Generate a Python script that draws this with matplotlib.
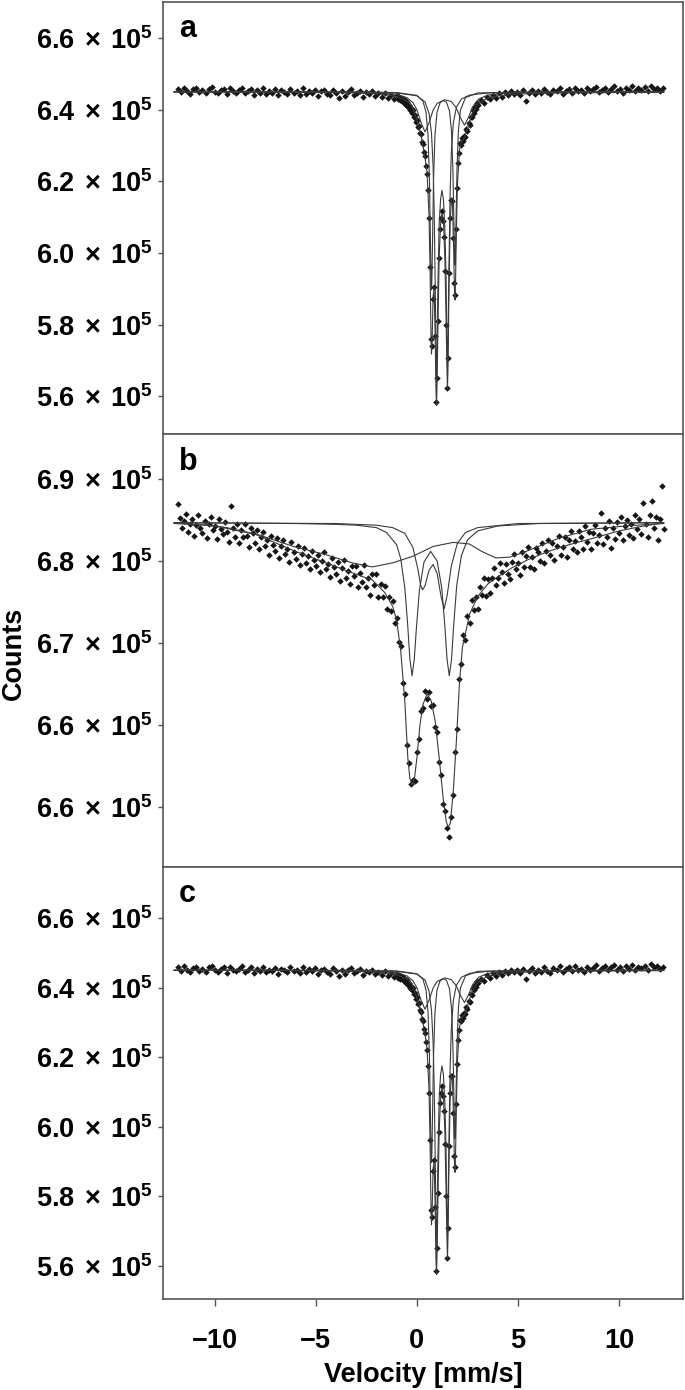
import numpy as np
import matplotlib
matplotlib.use("Agg")
import matplotlib.pyplot as plt
from matplotlib.ticker import FixedLocator, FixedFormatter

plt.rcParams['font.family'] = ['Liberation Sans', 'DejaVu Sans']
plt.rcParams['font.weight'] = 'bold'
plt.rcParams['mathtext.fontset'] = 'custom'
plt.rcParams['mathtext.rm'] = 'Liberation Sans:bold'
plt.rcParams['mathtext.bf'] = 'Liberation Sans:bold'
plt.rcParams['mathtext.default'] = 'rm'

# all counts below are in units of 1e5, velocity in mm/s

# ---- spectrum a (panel c shows the same spectrum) ----
data_a = [
    (-11.8, 6.458), (-11.65, 6.449), (-11.5, 6.462), (-11.35, 6.452), (-11.2, 6.445), (-11.05, 6.457),
    (-10.9, 6.460), (-10.75, 6.449), (-10.6, 6.455), (-10.45, 6.446), (-10.3, 6.459), (-10.15, 6.463),
    (-10.0, 6.450), (-9.85, 6.446), (-9.7, 6.455), (-9.55, 6.458), (-9.4, 6.443), (-9.25, 6.460),
    (-9.1, 6.451), (-8.95, 6.447), (-8.8, 6.455), (-8.65, 6.462), (-8.5, 6.446), (-8.35, 6.452),
    (-8.2, 6.458), (-8.05, 6.442), (-7.9, 6.455), (-7.75, 6.448), (-7.6, 6.460), (-7.45, 6.444),
    (-7.3, 6.452), (-7.15, 6.447), (-7.0, 6.457), (-6.85, 6.440), (-6.7, 6.455), (-6.55, 6.450),
    (-6.4, 6.444), (-6.25, 6.459), (-6.1, 6.447), (-5.95, 6.452), (-5.8, 6.441), (-5.65, 6.460),
    (-5.5, 6.445), (-5.35, 6.453), (-5.2, 6.448), (-5.05, 6.456), (-4.9, 6.439), (-4.75, 6.451),
    (-4.6, 6.455), (-4.45, 6.444), (-4.3, 6.440), (-4.15, 6.456), (-4.0, 6.447), (-3.85, 6.433),
    (-3.7, 6.452), (-3.55, 6.438), (-3.4, 6.450), (-3.25, 6.457), (-3.1, 6.442), (-2.95, 6.448),
    (-2.8, 6.453), (-2.65, 6.436), (-2.5, 6.449), (-2.35, 6.444), (-2.2, 6.451), (-2.05, 6.439),
    (-1.9, 6.446), (-1.75, 6.436), (-1.6, 6.447), (-1.45, 6.433), (-1.3, 6.441), (-1.15, 6.431),
    (-1.0, 6.440), (-0.95, 6.429), (-0.9, 6.436), (-0.85, 6.426), (-0.8, 6.433), (-0.75, 6.424),
    (-0.7, 6.430), (-0.65, 6.418), (-0.6, 6.426), (-0.55, 6.414), (-0.5, 6.421), (-0.45, 6.409),
    (-0.4, 6.414), (-0.35, 6.398), (-0.3, 6.405), (-0.25, 6.392), (-0.2, 6.398), (-0.15, 6.381),
    (-0.1, 6.384), (-0.05, 6.366), (0.0, 6.372), (0.05, 6.352), (0.1, 6.355), (0.15, 6.336),
    (0.2, 6.331), (0.25, 6.310), (0.3, 6.305), (0.35, 6.281), (0.4, 6.270), (0.45, 6.244),
    (0.5, 6.222), (0.55, 6.175), (0.6, 6.098), (0.65, 5.962), (0.7, 5.760), (0.75, 5.741),
    (0.8, 5.872), (0.85, 5.905), (0.9, 5.768), (0.95, 5.585), (1.0, 5.652), (1.05, 5.810),
    (1.1, 5.985), (1.15, 6.068), (1.2, 6.098), (1.25, 6.117), (1.3, 6.089), (1.35, 6.046),
    (1.4, 5.951), (1.45, 5.800), (1.5, 5.624), (1.55, 5.708), (1.6, 5.944), (1.65, 6.097),
    (1.7, 6.147), (1.75, 6.146), (1.8, 6.041), (1.85, 5.915), (1.9, 5.884), (1.95, 6.066),
    (2.0, 6.181), (2.05, 6.250), (2.1, 6.279), (2.15, 6.306), (2.2, 6.303), (2.25, 6.322),
    (2.3, 6.313), (2.35, 6.328), (2.4, 6.324), (2.45, 6.345), (2.5, 6.340), (2.55, 6.362),
    (2.6, 6.358), (2.65, 6.381), (2.7, 6.379), (2.75, 6.398), (2.8, 6.392), (2.85, 6.409),
    (2.9, 6.403), (2.95, 6.419), (3.0, 6.412), (3.15, 6.426), (3.3, 6.418), (3.45, 6.437),
    (3.6, 6.429), (3.75, 6.441), (3.9, 6.433), (4.05, 6.446), (4.2, 6.437), (4.35, 6.449),
    (4.5, 6.441), (4.65, 6.452), (4.8, 6.444), (4.95, 6.450), (5.1, 6.441), (5.25, 6.455),
    (5.4, 6.424), (5.55, 6.448), (5.7, 6.456), (5.85, 6.443), (6.0, 6.452), (6.15, 6.446),
    (6.3, 6.458), (6.45, 6.449), (6.6, 6.443), (6.75, 6.456), (6.9, 6.451), (7.05, 6.461),
    (7.2, 6.445), (7.35, 6.453), (7.5, 6.458), (7.65, 6.447), (7.8, 6.462), (7.95, 6.451),
    (8.1, 6.455), (8.25, 6.446), (8.4, 6.460), (8.55, 6.452), (8.7, 6.457), (8.85, 6.464),
    (9.0, 6.449), (9.15, 6.456), (9.3, 6.461), (9.45, 6.450), (9.6, 6.458), (9.75, 6.465),
    (9.9, 6.452), (10.05, 6.459), (10.2, 6.448), (10.35, 6.462), (10.5, 6.455), (10.65, 6.466),
    (10.8, 6.451), (10.95, 6.460), (11.1, 6.456), (11.25, 6.463), (11.4, 6.452), (11.55, 6.467),
    (11.7, 6.458), (11.85, 6.461), (12.0, 6.453), (12.15, 6.460),
]

fit_a_x = [-12.0, -8.0, -5.0, -3.0, -2.0, -1.5, -1.0, -0.5, -0.25, 0.0, 0.2, 0.4, 0.5, 0.6, 0.65,
           0.7, 0.72, 0.75, 0.8, 0.85, 0.9, 0.94, 0.97, 1.0, 1.04, 1.1, 1.17, 1.24, 1.31, 1.38,
           1.44, 1.48, 1.51, 1.54, 1.58, 1.64, 1.7, 1.76, 1.82, 1.85, 1.88, 1.91, 1.95, 2.0, 2.1,
           2.2, 2.35, 2.5, 2.7, 3.0, 3.5, 4.0, 5.0, 7.0, 12.2]
fit_a_y = [6.450, 6.450, 6.449, 6.447, 6.445, 6.442, 6.437, 6.425, 6.410, 6.372, 6.331, 6.267,
           6.225, 6.104, 5.951, 5.755, 5.718, 5.753, 5.880, 5.899, 5.773, 5.620, 5.575, 5.646,
           5.800, 5.990, 6.080, 6.110, 6.090, 5.990, 5.820, 5.690, 5.620, 5.690, 5.877, 6.076,
           6.152, 6.130, 6.000, 5.909, 5.869, 5.922, 6.059, 6.187, 6.286, 6.311, 6.322, 6.347,
           6.385, 6.416, 6.433, 6.439, 6.444, 6.447, 6.449]

comp_a1_x = [-12.0, -3.0, -1.0, 0.0, 0.3, 0.45, 0.55, 0.62, 0.67, 0.7, 0.72, 0.74, 0.77, 0.82,
             0.89, 0.99, 1.14, 1.3, 1.46, 1.61, 1.71, 1.78, 1.83, 1.86, 1.88, 1.9, 1.93, 1.98,
             2.05, 2.15, 2.4, 3.0, 5.0, 12.2]
comp_a1_y = [6.450, 6.450, 6.448, 6.440, 6.424, 6.393, 6.328, 6.200, 6.027, 5.923, 5.897, 5.923,
             6.027, 6.200, 6.327, 6.392, 6.419, 6.426, 6.421, 6.397, 6.340, 6.231, 6.079, 5.989,
             5.966, 5.989, 6.079, 6.231, 6.341, 6.399, 6.434, 6.447, 6.449, 6.450]

comp_a2_x = [-12.0, -3.0, -1.0, 0.0, 0.4, 0.6, 0.72, 0.8, 0.85, 0.9, 0.94, 0.97, 1.0, 1.04, 1.1,
             1.17, 1.24, 1.31, 1.38, 1.44, 1.48, 1.51, 1.54, 1.58, 1.64, 1.7, 1.8, 1.95, 2.2,
             2.6, 3.5, 5.0, 12.2]
comp_a2_y = [6.450, 6.449, 6.447, 6.439, 6.422, 6.390, 6.335, 6.243, 6.126, 5.928, 5.741, 5.640,
             5.736, 5.916, 6.080, 6.150, 6.175, 6.150, 6.070, 5.935, 5.762, 5.690, 5.768, 5.948,
             6.166, 6.280, 6.363, 6.407, 6.430, 6.441, 6.447, 6.449, 6.450]

comp_a3_x = [-12.0, -5.0, -3.0, -2.0, -1.0, -0.5, -0.2, 0.0, 0.2, 0.4, 0.6, 0.8, 1.0, 1.375,
             1.7, 1.95, 2.15, 2.35, 2.55, 2.75, 3.05, 3.5, 4.5, 6.0, 12.2]
comp_a3_y = [6.450, 6.449, 6.448, 6.447, 6.443, 6.434, 6.420, 6.400, 6.365, 6.338, 6.364, 6.399,
             6.418, 6.428, 6.423, 6.405, 6.378, 6.357, 6.379, 6.408, 6.430, 6.441, 6.447, 6.449,
             6.450]

# ---- spectrum b ----
data_b = [
    (-11.8, 6.870), (-11.7, 6.853), (-11.6, 6.841), (-11.5, 6.849), (-11.4, 6.858), (-11.3, 6.836),
    (-11.2, 6.846), (-11.1, 6.852), (-11.0, 6.831), (-10.9, 6.844), (-10.8, 6.857), (-10.7, 6.840),
    (-10.6, 6.835), (-10.5, 6.849), (-10.4, 6.828), (-10.3, 6.846), (-10.2, 6.854), (-10.1, 6.838),
    (-10.0, 6.843), (-9.9, 6.827), (-9.8, 6.851), (-9.7, 6.839), (-9.6, 6.833), (-9.5, 6.848),
    (-9.4, 6.836), (-9.3, 6.824), (-9.2, 6.868), (-9.1, 6.841), (-9.0, 6.830), (-8.9, 6.846),
    (-8.8, 6.822), (-8.7, 6.838), (-8.6, 6.829), (-8.5, 6.845), (-8.4, 6.831), (-8.3, 6.817),
    (-8.2, 6.840), (-8.1, 6.834), (-8.0, 6.822), (-7.9, 6.838), (-7.8, 6.815), (-7.7, 6.829),
    (-7.6, 6.836), (-7.5, 6.818), (-7.4, 6.826), (-7.3, 6.808), (-7.2, 6.831), (-7.1, 6.820),
    (-7.0, 6.813), (-6.9, 6.828), (-6.8, 6.804), (-6.7, 6.819), (-6.6, 6.826), (-6.5, 6.809),
    (-6.4, 6.815), (-6.3, 6.799), (-6.2, 6.823), (-6.1, 6.811), (-6.0, 6.803), (-5.9, 6.818),
    (-5.8, 6.795), (-5.7, 6.809), (-5.6, 6.816), (-5.5, 6.798), (-5.4, 6.806), (-5.3, 6.790),
    (-5.2, 6.812), (-5.1, 6.801), (-5.0, 6.794), (-4.9, 6.808), (-4.8, 6.787), (-4.7, 6.800),
    (-4.6, 6.811), (-4.5, 6.791), (-4.4, 6.797), (-4.3, 6.781), (-4.2, 6.804), (-4.1, 6.793),
    (-4.0, 6.784), (-3.9, 6.799), (-3.8, 6.776), (-3.7, 6.792), (-3.6, 6.801), (-3.5, 6.779),
    (-3.4, 6.788), (-3.3, 6.772), (-3.2, 6.794), (-3.1, 6.782), (-3.0, 6.794), (-2.9, 6.769),
    (-2.8, 6.786), (-2.7, 6.775), (-2.6, 6.795), (-2.5, 6.768), (-2.4, 6.780), (-2.3, 6.759),
    (-2.2, 6.784), (-2.1, 6.771), (-2.0, 6.784), (-1.9, 6.756), (-1.8, 6.772), (-1.7, 6.756),
    (-1.6, 6.770), (-1.5, 6.742), (-1.4, 6.756), (-1.3, 6.739), (-1.2, 6.751), (-1.1, 6.725),
    (-1.0, 6.731), (-0.9, 6.701), (-0.8, 6.696), (-0.7, 6.651), (-0.6, 6.638), (-0.5, 6.575),
    (-0.4, 6.554), (-0.3, 6.528), (-0.2, 6.533), (-0.1, 6.532), (0.0, 6.567), (0.1, 6.583),
    (0.2, 6.617), (0.3, 6.621), (0.4, 6.642), (0.5, 6.632), (0.6, 6.640), (0.7, 6.623),
    (0.8, 6.624), (0.9, 6.597), (1.0, 6.591), (1.1, 6.555), (1.2, 6.539), (1.3, 6.504),
    (1.4, 6.495), (1.5, 6.474), (1.6, 6.463), (1.7, 6.487), (1.8, 6.514), (1.9, 6.567),
    (2.0, 6.595), (2.1, 6.656), (2.2, 6.674), (2.3, 6.710), (2.4, 6.704), (2.5, 6.733),
    (2.6, 6.725), (2.7, 6.753), (2.8, 6.740), (2.9, 6.756), (3.0, 6.742), (3.1, 6.769),
    (3.2, 6.759), (3.3, 6.779), (3.4, 6.758), (3.5, 6.778), (3.6, 6.761), (3.7, 6.780),
    (3.8, 6.792), (3.9, 6.771), (4.0, 6.779), (4.1, 6.798), (4.2, 6.787), (4.3, 6.773),
    (4.4, 6.797), (4.5, 6.784), (4.6, 6.778), (4.7, 6.799), (4.8, 6.809), (4.9, 6.791),
    (5.0, 6.798), (5.1, 6.783), (5.2, 6.811), (5.3, 6.793), (5.4, 6.806), (5.5, 6.817),
    (5.6, 6.793), (5.7, 6.805), (5.8, 6.790), (5.9, 6.816), (6.0, 6.811), (6.1, 6.800),
    (6.2, 6.822), (6.3, 6.798), (6.4, 6.813), (6.5, 6.826), (6.6, 6.807), (6.7, 6.822),
    (6.8, 6.802), (6.9, 6.818), (7.0, 6.831), (7.1, 6.808), (7.2, 6.817), (7.3, 6.830),
    (7.4, 6.805), (7.5, 6.826), (7.6, 6.837), (7.7, 6.815), (7.8, 6.825), (7.9, 6.811),
    (8.0, 6.837), (8.1, 6.829), (8.2, 6.815), (8.3, 6.843), (8.4, 6.823), (8.5, 6.836),
    (8.6, 6.815), (8.7, 6.835), (8.8, 6.844), (8.9, 6.822), (9.0, 6.832), (9.1, 6.859),
    (9.2, 6.821), (9.3, 6.841), (9.4, 6.830), (9.5, 6.849), (9.6, 6.816), (9.7, 6.840),
    (9.8, 6.827), (9.9, 6.848), (10.0, 6.835), (10.1, 6.854), (10.2, 6.826), (10.3, 6.843),
    (10.4, 6.850), (10.5, 6.832), (10.6, 6.846), (10.7, 6.828), (10.8, 6.856), (10.9, 6.839),
    (11.0, 6.851), (11.1, 6.833), (11.2, 6.871), (11.3, 6.846), (11.4, 6.830), (11.5, 6.856),
    (11.6, 6.873), (11.7, 6.840), (11.8, 6.854), (11.9, 6.826), (12.0, 6.851), (12.1, 6.892),
    (12.2, 6.839),
]

fit_b_x = [-12.0, -10.0, -8.0, -6.0, -4.5, -3.0, -2.2, -1.6, -1.2, -1.0, -0.8, -0.6, -0.45, -0.35,
           -0.24, -0.12, 0.0, 0.15, 0.3, 0.5, 0.7, 0.9, 1.1, 1.3, 1.45, 1.55, 1.65, 1.8, 1.95,
           2.1, 2.25, 2.6, 3.0, 3.5, 4.0, 4.7, 5.5, 6.5, 7.5, 8.7, 10.0, 11.0, 12.2]
fit_b_y = [6.847, 6.843, 6.833, 6.812, 6.798, 6.784, 6.777, 6.762, 6.745, 6.728, 6.690, 6.630,
           6.560, 6.535, 6.527, 6.535, 6.560, 6.600, 6.625, 6.638, 6.630, 6.605, 6.560, 6.510,
           6.482, 6.475, 6.480, 6.520, 6.580, 6.650, 6.695, 6.735, 6.757, 6.772, 6.781, 6.792,
           6.802, 6.812, 6.820, 6.828, 6.837, 6.842, 6.847]

comp_b1_x = [-12.0, -6.0, -4.0, -3.0, -2.0, -1.5, -1.0, -0.8, -0.6, -0.45, -0.35, -0.24, -0.13,
             -0.03, 0.12, 0.35, 0.68, 1.0, 1.23, 1.38, 1.49, 1.6, 1.71, 1.82, 1.97, 2.2, 2.5,
             3.0, 4.0, 6.0, 12.2]
comp_b1_y = [6.847, 6.846, 6.845, 6.844, 6.841, 6.835, 6.820, 6.803, 6.768, 6.720, 6.681, 6.660,
             6.680, 6.717, 6.764, 6.799, 6.812, 6.800, 6.767, 6.721, 6.680, 6.660, 6.680, 6.723,
             6.771, 6.807, 6.826, 6.837, 6.843, 6.846, 6.847]

comp_b2_x = [-12.0, -4.0, -2.0, -1.2, -0.6, -0.2, 0.05, 0.18, 0.28, 0.4, 0.6, 0.8, 1.0, 1.2,
             1.35, 1.5, 1.7, 2.0, 2.4, 3.0, 5.0, 12.2]
comp_b2_y = [6.847, 6.846, 6.844, 6.841, 6.834, 6.817, 6.790, 6.771, 6.765, 6.770, 6.789, 6.796,
             6.785, 6.756, 6.742, 6.759, 6.794, 6.822, 6.835, 6.841, 6.846, 6.847]

comp_b3_x = [-12.0, -10.3, -9.4, -7.8, -6.1, -4.5, -3.2, -2.2, -1.2, -0.2, 0.8, 1.8, 2.6, 3.2,
             3.9, 4.6, 5.4, 7.0, 8.6, 10.3, 12.2]
comp_b3_y = [6.846, 6.844, 6.841, 6.832, 6.818, 6.808, 6.798, 6.793, 6.798, 6.806, 6.818, 6.823,
             6.821, 6.812, 6.804, 6.805, 6.812, 6.828, 6.839, 6.843, 6.846]

# ---- axes ----
xticks = [-10, -5, 0, 5, 10]
xticklabels = ['\u221210', '\u22125', '0', '5', '10']
yticks_a = [5.6, 5.8, 6.0, 6.2, 6.4, 6.6]
ylabels_a = ['5.6', '5.8', '6.0', '6.2', '6.4', '6.6']
yticks_b = [6.5, 6.6, 6.7, 6.8, 6.9]
ylabels_b = ['6.6', '6.6', '6.7', '6.8', '6.9']   # as printed in the original
ylim_a = (5.494, 6.701)
ylim_b = (6.427, 6.955)
ylim_c = (5.505, 6.748)

FS = 19.5
spine_col = '#555555'
line_col = '#3a3a3a'

fig, axes = plt.subplots(3, 1, figsize=(6.85, 13.9), dpi=100, sharex=True,
                         gridspec_kw={'hspace': 0})
fig.subplots_adjust(left=0.238, right=0.997, top=0.9986, bottom=0.0655)

panels = [
    ('a', data_a, (fit_a_x, fit_a_y),
     [(comp_a1_x, comp_a1_y), (comp_a2_x, comp_a2_y), (comp_a3_x, comp_a3_y)],
     yticks_a, ylabels_a, ylim_a),
    ('b', data_b, (fit_b_x, fit_b_y),
     [(comp_b1_x, comp_b1_y), (comp_b2_x, comp_b2_y), (comp_b3_x, comp_b3_y)],
     yticks_b, ylabels_b, ylim_b),
    ('c', data_a, (fit_a_x, fit_a_y),
     [(comp_a1_x, comp_a1_y), (comp_a2_x, comp_a2_y), (comp_a3_x, comp_a3_y)],
     yticks_a, ylabels_a, ylim_c),
]

for ax, (letter, data, fit, comps, yt, yl, ylim) in zip(axes, panels):
    d = np.array(data)
    ax.plot(d[:, 0], d[:, 1] * 1e5, 'D', ms=3.3, mew=0, color='#151515', zorder=2)
    for cx, cy in comps:
        ax.plot(cx, np.array(cy) * 1e5, '-', lw=0.8, color=line_col, zorder=3)
    ax.plot(fit[0], np.array(fit[1]) * 1e5, '-', lw=0.8, color=line_col, zorder=3)

    ax.set_ylim(ylim[0] * 1e5, ylim[1] * 1e5)
    ax.yaxis.set_major_locator(FixedLocator([v * 1e5 for v in yt]))
    ax.yaxis.set_major_formatter(FixedFormatter([r'$%s\,\times\,10^{5}$' % s for s in yl]))
    ax.tick_params(axis='y', direction='out', length=3.6, width=1.0, color=spine_col,
                   pad=3.6, labelsize=FS)
    for sp in ax.spines.values():
        sp.set_color(spine_col)
        sp.set_linewidth(1.2)
    ax.text(0.03, 0.918, letter, transform=ax.transAxes, fontsize=22, fontweight='bold',
            ha='left', va='baseline')

for ax in axes[:2]:
    ax.tick_params(axis='x', bottom=False, labelbottom=False)

ax = axes[2]
ax.set_xlim(-12.55, 13.15)
ax.xaxis.set_major_locator(FixedLocator(xticks))
ax.xaxis.set_major_formatter(FixedFormatter(xticklabels))
ax.tick_params(axis='x', direction='out', length=5, width=1.0, color=spine_col,
               pad=16, labelsize=FS)
ax.set_xlabel('Velocity [mm/s]', fontsize=FS, fontweight='bold', labelpad=6)

fig.text(0.0015, 1 - 653 / 1390, 'Counts', rotation=90, va='center', ha='left',
         fontsize=FS, fontweight='bold')

fig.savefig('out.png', dpi=100)
